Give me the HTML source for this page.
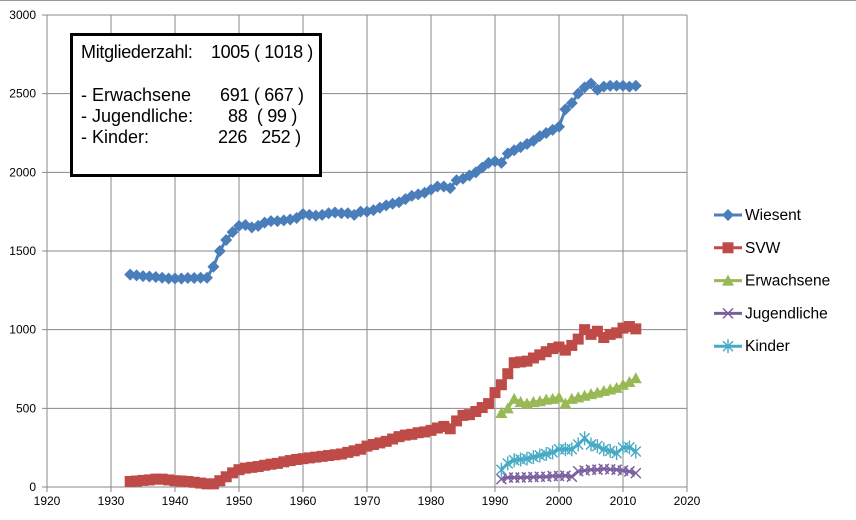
<!DOCTYPE html>
<html><head><meta charset="utf-8">
<style>
html,body{margin:0;padding:0;background:#fff;}
#c{position:relative;width:856px;height:520px;overflow:hidden;font-family:"Liberation Sans",sans-serif;}
.box{position:absolute;left:70px;top:33px;width:246px;height:138px;border:3px solid #000;background:#fff;font-size:18px;line-height:22px;color:#000;}
.box div{position:absolute;white-space:pre;}
</style></head><body>
<div id="c">
<svg id="s" width="856" height="520" xmlns="http://www.w3.org/2000/svg" style="position:absolute;left:0;top:0"></svg>
<div class="box">
<div style="left:8px;top:5px;letter-spacing:-0.3px">Mitgliederzahl:</div><div style="left:138px;top:5px;letter-spacing:-0.4px">1005 ( 1018 )</div>
<div style="left:8px;top:48px">- Erwachsene</div><div style="left:147px;top:48px;letter-spacing:-0.3px">691 ( 667 )</div>
<div style="left:8px;top:69px">- Jugendliche:</div><div style="left:155px;top:69px;letter-spacing:-0.3px">88  ( 99 )</div>
<div style="left:8px;top:90px">- Kinder:</div><div style="left:145px;top:90px;letter-spacing:-0.3px">226   252 )</div>
</div>
</div>
<script>
const NS="http://www.w3.org/2000/svg",s=document.getElementById('s');
function el(t,a,txt){const e=document.createElementNS(NS,t);for(const k in a)e.setAttribute(k,a[k]);if(txt!=null)e.textContent=txt;s.appendChild(e);return e;}
const X=y=>47+(y-1920)*6.4, Y=v=>487-v*472/3000;
el('line',{x1:0,x2:856,y1:0.5,y2:0.5,stroke:'#999'});
for(let i=0;i<=6;i++){const y=Y(i*500);el('line',{x1:X(1920)-5,x2:X(2020),y1:y,y2:y,stroke:'#888','stroke-width':1});
el('text',{x:36,y:y+4,'text-anchor':'end','font-size':12,fill:'#000','font-family':'Liberation Sans'},String(i*500));}
for(let i=0;i<=10;i++){const x=X(1920+i*10);el('line',{x1:x,x2:x,y1:Y(3000),y2:Y(0)+5,stroke:'#888','stroke-width':1});
el('text',{x:x,y:505,'text-anchor':'middle','font-size':12,fill:'#000','font-family':'Liberation Sans'},String(1920+i*10));}
const W=[1350,1345,1340,1338,1335,1330,1325,1325,1325,1328,1328,1330,1330,1400,1500,1570,1620,1660,1665,1650,1660,1680,1690,1690,1695,1700,1710,1735,1730,1725,1730,1740,1745,1740,1740,1730,1750,1750,1760,1775,1790,1800,1810,1830,1850,1860,1870,1890,1910,1910,1900,1950,1960,1980,2000,2030,2060,2070,2060,2120,2140,2160,2180,2200,2230,2250,2270,2290,2400,2440,2500,2540,2565,2525,2545,2550,2550,2550,2545,2550];
const S=[35,38,42,45,50,50,45,40,38,35,30,25,20,20,40,65,90,110,120,125,130,138,145,150,160,168,175,180,185,190,195,200,205,210,220,230,240,260,270,280,290,305,320,330,335,345,350,360,375,385,370,420,455,460,480,505,530,600,650,720,790,795,800,820,840,860,880,890,870,900,940,1000,970,990,950,970,980,1010,1020,1005];
const E=[470,500,560,540,530,540,545,555,560,570,530,560,570,580,590,600,610,620,630,650,667,691];
const J=[50,60,60,60,62,63,65,65,70,70,72,65,100,105,110,110,115,112,110,105,99,88];
const K=[110,150,170,175,180,190,200,210,220,240,240,240,270,310,270,260,240,230,215,250,252,226];
function mk(t,x,y,c){
 if(t=='d')el('polygon',{points:`${x},${y-6} ${x+6},${y} ${x},${y+6} ${x-6},${y}`,fill:c});
 else if(t=='s')el('rect',{x:x-5.5,y:y-5.5,width:11,height:11,fill:c});
 else if(t=='t')el('polygon',{points:`${x},${y-6} ${x+6},${y+5} ${x-6},${y+5}`,fill:c});
 else if(t=='x'){el('path',{d:`M${x-5} ${y-5}L${x+5} ${y+5}M${x+5} ${y-5}L${x-5} ${y+5}`,stroke:c,'stroke-width':1.5});}
 else {el('path',{d:`M${x-5} ${y-5}L${x+5} ${y+5}M${x+5} ${y-5}L${x-5} ${y+5}M${x} ${y-7}L${x} ${y+7}`,stroke:c,'stroke-width':1.4});}
}
function ser(d,y0,c,t){const p=d.map((v,i)=>[X(y0+i),Y(v)]);
 el('polyline',{points:p.map(q=>q.join(',')).join(' '),fill:'none',stroke:c,'stroke-width':3});
 p.forEach(q=>mk(t,q[0],q[1],c));}
ser(S,1933,'#BE4B48','s');ser(W,1933,'#4A7EBB','d');ser(E,1991,'#98B954','t');ser(J,1991,'#7D60A0','x');ser(K,1991,'#46AAC5','a');
const L=[['Wiesent','#4A7EBB','d'],['SVW','#BE4B48','s'],['Erwachsene','#98B954','t'],['Jugendliche','#7D60A0','x'],['Kinder','#46AAC5','a']];
L.forEach((l,i)=>{const y=215+i*32.8;el('line',{x1:714,x2:742,y1:y,y2:y,stroke:l[1],'stroke-width':3});mk(l[2],728,y,l[1]);
el('text',{x:745,y:y+5,'font-size':15.5,fill:'#000','font-family':'Liberation Sans'},l[0]);});
</script>
</body></html>
